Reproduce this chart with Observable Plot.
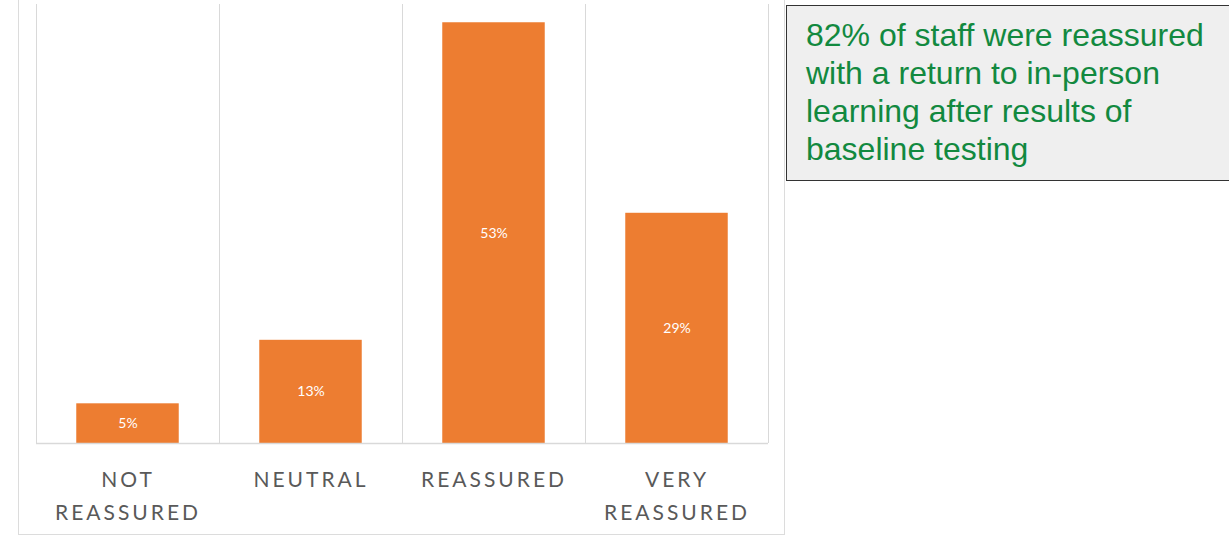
<!DOCTYPE html>
<html>
<head>
<meta charset="utf-8">
<script src="https://cdn.jsdelivr.net/npm/d3@7"></script>
<script src="https://cdn.jsdelivr.net/npm/@observablehq/plot@0.6"></script>
<style>
  html, body { margin: 0; padding: 0; background: #fff; overflow: hidden; }
  #wrap { position: relative; width: 1229px; height: 537px; }
  #frame { position: absolute; left: 18px; top: -5px; width: 767px; height: 540px; border: 1.5px solid #dcdcdc; box-sizing: border-box; }
  #chart { position: absolute; left: 0; top: 0; }
  #note { position: absolute; left: 786px; top: 5px; width: 460px; height: 176px; box-sizing: border-box;
          background: #efefef; border: 1.5px solid #333; padding: 9.5px 0 0 19px;
          font-family: "Liberation Sans", Arial, sans-serif; font-size: 32px; line-height: 38.3px; color: #12893f; }
  #chart .cat text { letter-spacing: 3px; }
</style>
</head>
<body>
<div id="wrap">
  <div id="frame"></div>
  <div id="chart"></div>
  <div id="note">82% of staff were reassured<br>with a return to in-person<br>learning after results of<br>baseline testing</div>
</div>
<script>
const categories = ["NOT\nREASSURED", "NEUTRAL", "REASSURED", "VERY\nREASSURED"];
const values = [5, 13, 53, 29];

const data = categories.map((c, i) => ({i, category: c, value: values[i]}));
const bounds = d3.range(categories.length + 1);

const chart = Plot.plot({
  width: 786,
  height: 537,
  marginLeft: 36,
  marginRight: 18,
  marginTop: 4,
  marginBottom: 94,
  x: {type: "linear", domain: [0, categories.length], axis: null},
  y: {domain: [0, 55.3], axis: null},
  marks: [
    Plot.ruleX(bounds, {x: d => d, stroke: "#d9d9d9", strokeWidth: 1}),
    Plot.rectY(data, {x1: d => d.i + 0.22, x2: d => d.i + 0.78, y: "value", fill: "#ED7D31"}),
    Plot.ruleY([0], {stroke: "#d9d9d9", strokeWidth: 1.5}),
    Plot.text(data, {x: d => d.i + 0.5, y: d => d.value / 2, text: d => d.value + "%",
      fill: "white", fontSize: 14, fontFamily: "Lato, 'Open Sans', sans-serif"}),
    Plot.text(data, {x: d => d.i + 0.5, y: 0, text: "category", dy: 20, lineAnchor: "top",
      lineHeight: 1.57, fill: "#595959", fontSize: 21, fontFamily: "Lato, 'Open Sans', sans-serif",
      className: "cat"})
  ]
});
document.getElementById("chart").append(chart);
</script>
</body>
</html>
